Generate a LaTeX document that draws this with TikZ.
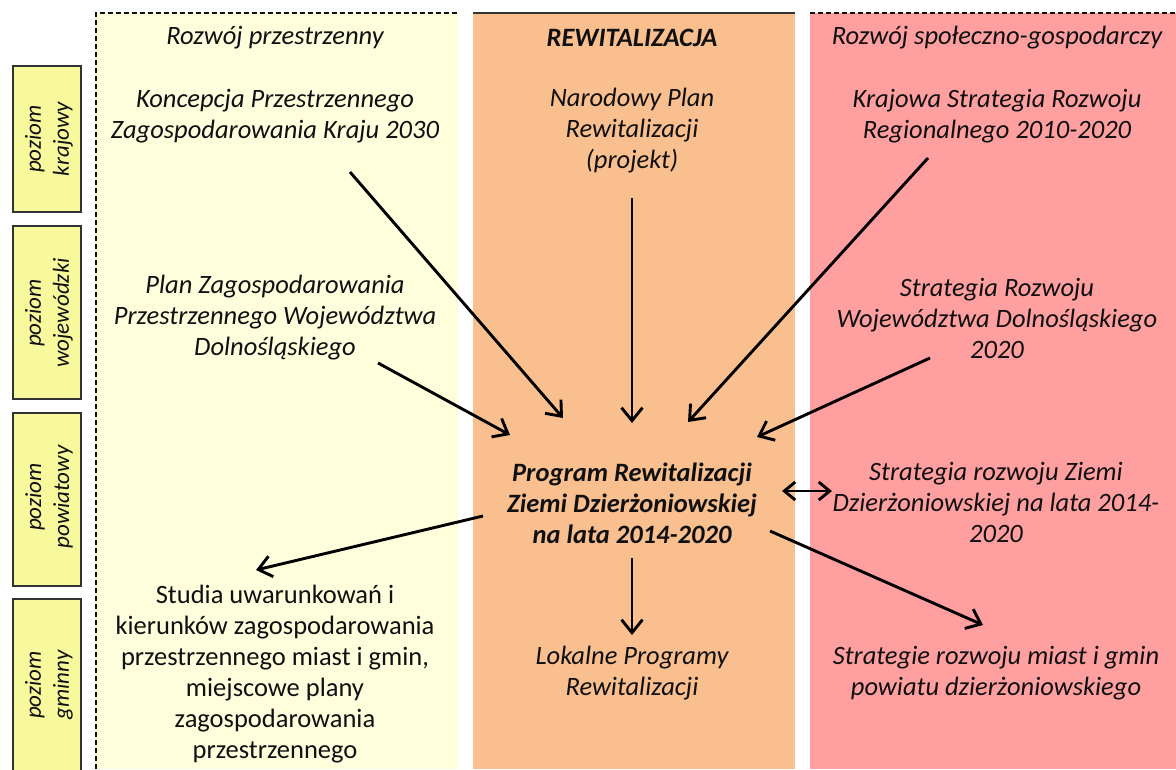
\documentclass[tikz,border=0pt]{standalone}
\usepackage{fontspec}
\setmainfont{Carlito}
\usetikzlibrary{arrows.meta}
\definecolor{colA}{HTML}{FEFEDC}
\definecolor{colB}{HTML}{F9BF8F}
\definecolor{colC}{HTML}{FF9F9F}
\definecolor{lvl}{HTML}{F8F89C}
\definecolor{frame}{HTML}{333333}
\definecolor{ink}{HTML}{101010}
\tikzset{
  txt/.style={align=center,inner sep=0pt,text=ink,font=\fontsize{26.5}{31}\selectfont\itshape},
  txtb/.style={txt,font=\fontsize{26.5}{31}\selectfont\bfseries\itshape},
  txtu/.style={align=center,inner sep=0pt,text=ink,font=\fontsize{26.5}{31}\selectfont},
  lvlbox/.style={draw=frame,line width=1.8pt,fill=lvl},
  lvltxt/.style={align=center,inner sep=0pt,text=ink,rotate=90,font=\fontsize{23}{28}\selectfont\itshape},
  arr/.style={line width=2.9pt,-{Straight Barb[length=13pt,width=21pt,line width=2.9pt]}},
  darr/.style={line width=2.9pt,{Straight Barb[length=11pt,width=18pt,line width=2.9pt]}-{Straight Barb[length=11pt,width=18pt,line width=2.9pt]}},
  dsh/.style={draw=ink,line width=1.3pt,dash pattern=on 5pt off 3pt}
}
\begin{document}
\begin{tikzpicture}[x=1pt,y=-1pt]
\useasboundingbox (0,0) rectangle (1176,769);
\fill[white] (0,0) rectangle (1176,769);
% columns
\fill[colA] (96,13) rectangle (458,769);
\fill[colB] (473,13) rectangle (795,769);
\fill[colC] (810,13) rectangle (1176,769);
\draw[dsh] (96,769) -- (96,13) -- (458,13);
\draw[frame,line width=1.8pt] (473,13) -- (795,13);
\draw[dsh] (810,13) -- (1176,13);
% level boxes
\draw[lvlbox] (13,66) rectangle (81,212);
\draw[lvlbox] (13,226) rectangle (81,399);
\draw[lvlbox] (13,413) rectangle (81,586);
\draw[lvlbox] (13,599) rectangle (81,775);
\node[lvltxt] (l1) at (49,139) {poziom\\krajowy};
\node[lvltxt] (l2) at (49,313) {poziom\\wojewódzki};
\node[lvltxt] (l3) at (49,497) {poziom\\powiatowy};
\node[lvltxt] (l4) at (49,685) {poziom\\gminny};
% headers
\node[txt] (h1) at (275,38) {Rozwój przestrzenny};
\node[txtb] (h2) at (632,38) {REWITALIZACJA};
\node[txt] (h3) at (997,38) {Rozwój społeczno-gospodarczy};
% texts
\node[txt] (kpzk) at (275,116) {Koncepcja Przestrzennego\\Zagospodarowania Kraju 2030};
\node[txt] (npr) at (632,131) {Narodowy Plan\\Rewitalizacji\\(projekt)};
\node[txt] (ksrr) at (997,116) {Krajowa Strategia Rozwoju\\Regionalnego 2010-2020};
\node[txt] (pzpw) at (275,318) {Plan Zagospodarowania\\Przestrzennego Województwa\\Dolnośląskiego};
\node[txt] (srwd) at (997,318) {Strategia Rozwoju\\Województwa Dolnośląskiego\\2020};
\node[txtb] (prog) at (632,503) {Program Rewitalizacji\\Ziemi Dzierżoniowskiej\\na lata 2014-2020};
\node[txt] (srzd) at (996,502) {Strategia rozwoju Ziemi\\Dzierżoniowskiej na lata 2014-\\2020};
\node[txtu] (studia) at (275,674) {Studia uwarunkowań i\\kierunków zagospodarowania\\przestrzennego miast i gmin,\\miejscowe plany\\zagospodarowania\\przestrzennego};
\node[txt] (lpr) at (632,673) {Lokalne Programy\\Rewitalizacji};
\node[txt] (srmg) at (996,673) {Strategie rozwoju miast i gmin\\powiatu dzierżoniowskiego};
% connector ends
\coordinate (a1s) at (350,172); \coordinate (a1e) at (563,418);
\coordinate (a2s) at (378,363); \coordinate (a2e) at (510,435);
\coordinate (a3s) at (632,198); \coordinate (a3e) at (632,423);
\coordinate (a4s) at (928,158); \coordinate (a4e) at (688,422);
\coordinate (a5s) at (930,358); \coordinate (a5e) at (757,437);
\coordinate (a6s) at (483,516); \coordinate (a6e) at (256,570);
\coordinate (a7s) at (632,558); \coordinate (a7e) at (632,635);
\coordinate (a8s) at (770,531); \coordinate (a8e) at (983,625);
\coordinate (a9s) at (782,491); \coordinate (a9e) at (832,491);
\draw[arr] (a1s) -- (a1e);
\draw[arr] (a2s) -- (a2e);
\draw[arr] (a3s) -- (a3e);
\draw[arr] (a4s) -- (a4e);
\draw[arr] (a5s) -- (a5e);
\draw[arr] (a6s) -- (a6e);
\draw[arr] (a7s) -- (a7e);
\draw[arr] (a8s) -- (a8e);
\draw[darr] (a9s) -- (a9e);
\end{tikzpicture}
\end{document}
